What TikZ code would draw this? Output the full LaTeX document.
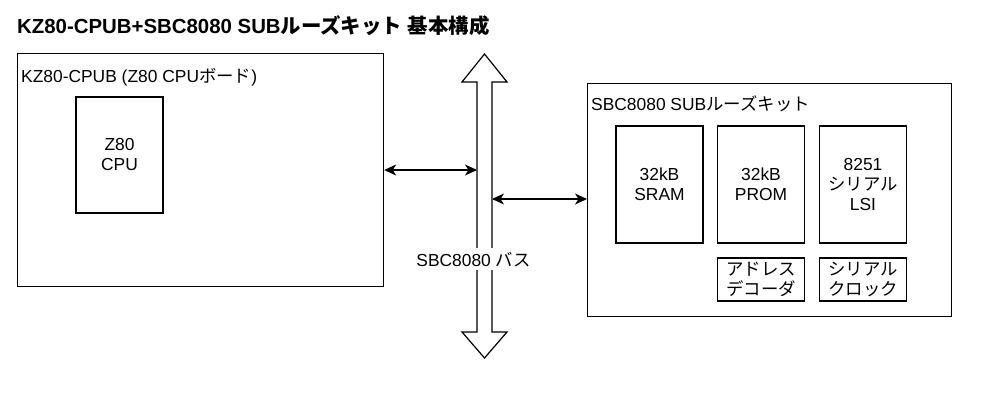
\documentclass[tikz,border=0pt]{standalone}
\usepackage{fontspec}
\setmainfont{Liberation Sans}
\newfontfamily\jafont{Noto Sans CJK JP}
\newcommand{\ja}[1]{{\jafont #1}}
\usetikzlibrary{arrows.meta}

\tikzset{
  carte/.style={draw, line width=1.2pt, inner sep=0pt, anchor=north west},
  puce/.style={draw, line width=1.2pt, inner sep=0pt, align=center, minimum width=87pt, minimum height=117pt},
  petit/.style={puce, minimum height=43pt},
  etiquette/.style={anchor=base west, inner sep=0pt},
  fleche/.style={<->, >={Stealth[length=12pt, width=11pt, inset=3.5pt]}, line width=1.2pt},
}

\begin{document}
\begin{tikzpicture}[x=1pt, y=-1pt, font=\fontsize{17.4}{20}\selectfont]
\useasboundingbox (0,0) rectangle (985,410);

%titre
\node[etiquette, font=\bfseries\fontsize{20.4}{24}\selectfont] (titre) at (17,33) {KZ80-CPUB+SBC8080 SUB\ja{ルーズキット} \ja{基本構成}};

%carte CPU
\node[carte, minimum width=366pt, minimum height=233pt] (cpub) at (17,53) {};
\node[etiquette] (cpubnom) at (21,82) {KZ80-CPUB (Z80 CPU\ja{ボード})};
\node[puce, minimum height=116pt] (z80) at (119.5,155) {Z80\\CPU};

%kit SUB
\node[carte, minimum width=364pt, minimum height=233pt] (sub) at (587,83) {};
\node[etiquette] (subnom) at (591,110) {SBC8080 SUB\ja{ルーズキット}};
\node[puce] (sram) at (659.5,184.5) {32kB\\SRAM};
\node[puce] (prom) at (761,184.5) {32kB\\PROM};
\node[puce] (sio) at (863,184.5) {8251\\\ja{シリアル}\\LSI};
\node[petit] (deco) at (761,279.5) {\ja{アドレス}\\\ja{デコーダ}};
\node[petit] (horl) at (863,279.5) {\ja{シリアル}\\\ja{クロック}};

%bus SBC8080
\draw[line width=1.2pt] (484.5,54) -- (507,82) -- (492,82) -- (492,332) -- (507,332) -- (484.5,358)
  -- (462,332) -- (477,332) -- (477,82) -- (462,82) -- cycle;
\node[fill=white, anchor=base, inner xsep=1pt, inner ysep=4pt] (busnom) at (473.5,266) {SBC8080 \ja{バス}};

%liaisons
\coordinate (busg) at (477,170);
\coordinate (busd) at (492,199);
\draw[fleche] (cpub.east |- busg) -- (busg);
\draw[fleche] (busd) -- (sub.west |- busd);

\end{tikzpicture}
\end{document}
